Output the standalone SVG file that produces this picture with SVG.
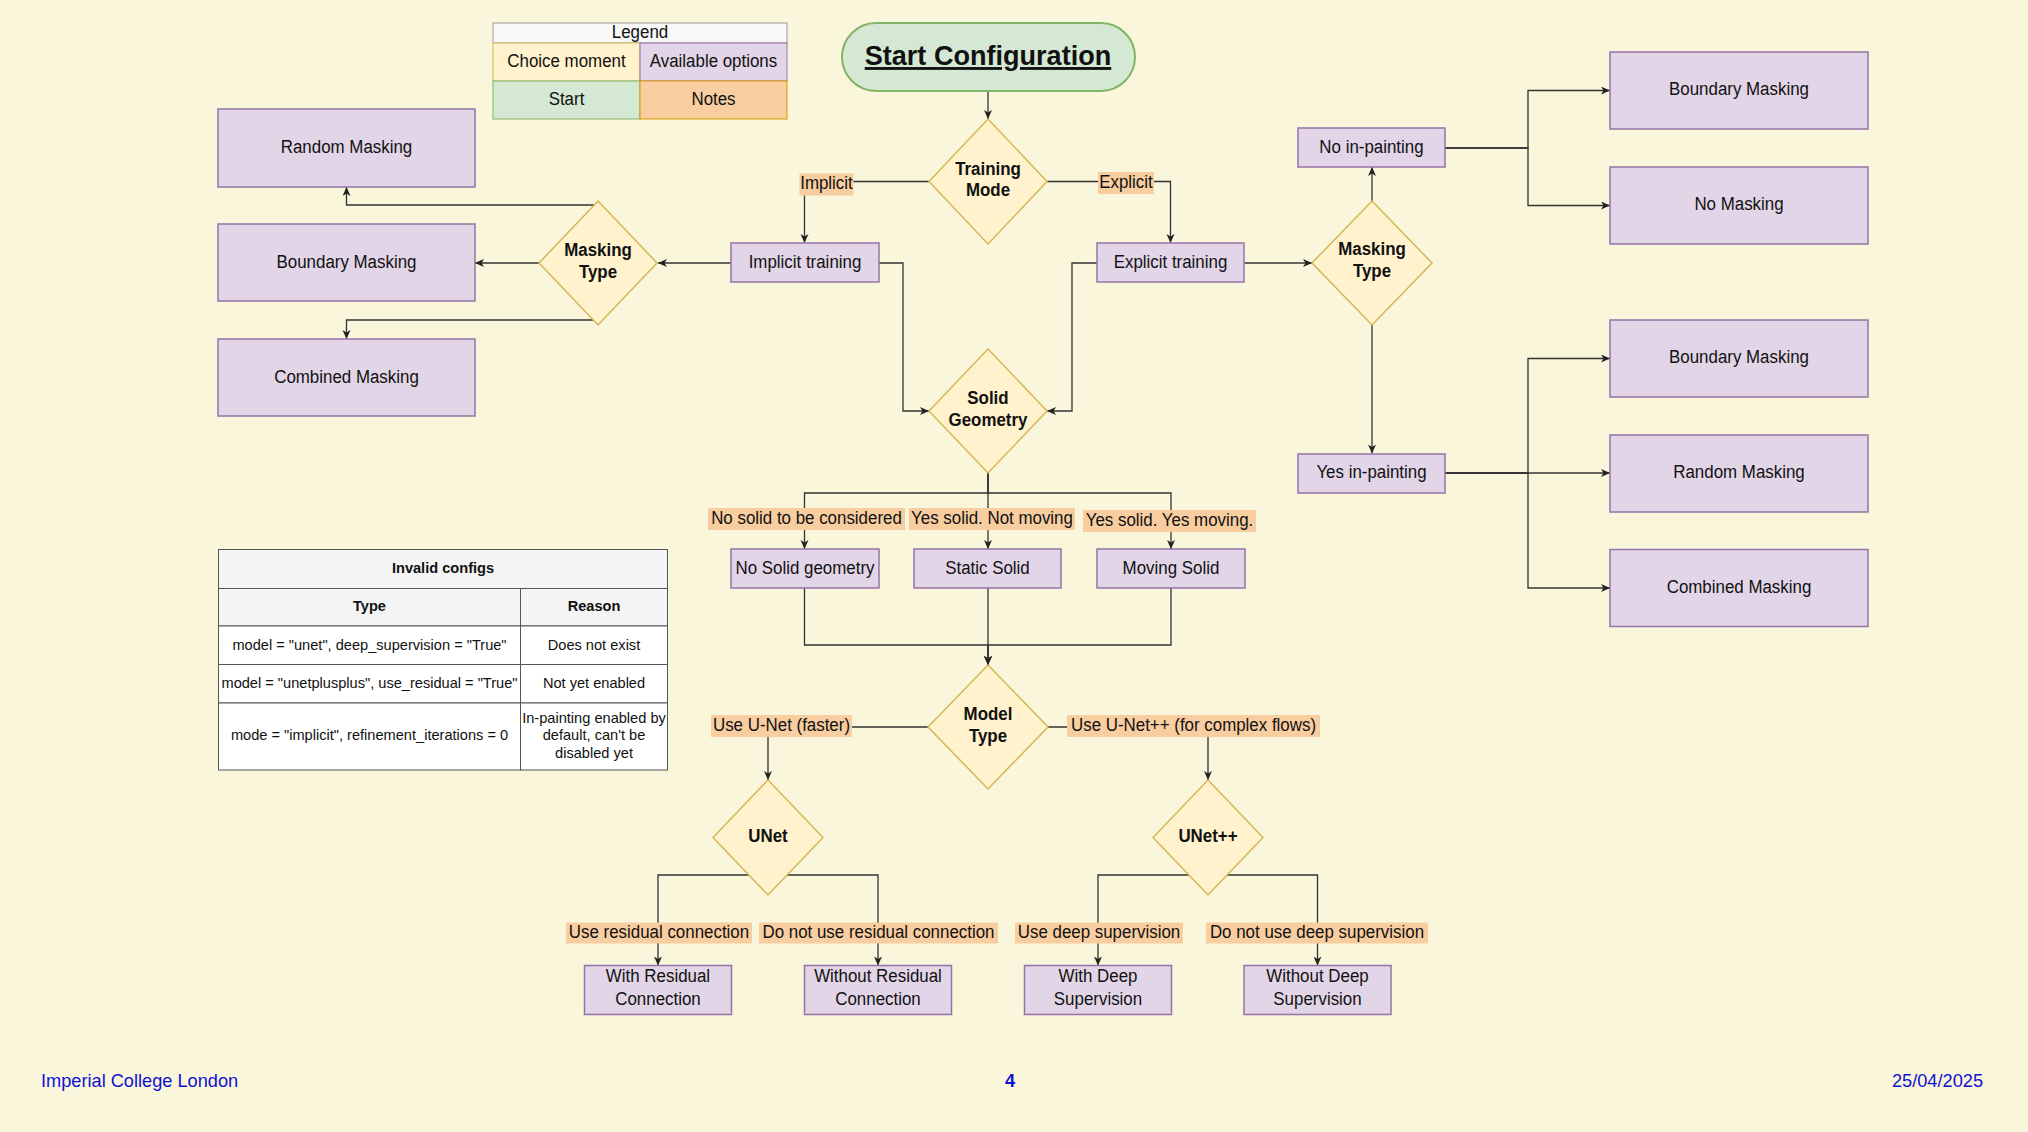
<svg xmlns="http://www.w3.org/2000/svg" width="2028" height="1132" viewBox="0 0 2028 1132">
<defs>
<marker id="ar" markerWidth="10" markerHeight="10" refX="9" refY="4" orient="auto" markerUnits="userSpaceOnUse"><path d="M0,0 L9,4 L0,8 L2.5,4 Z" fill="#222"/></marker>
</defs>
<style>
text{font-family:"Liberation Sans",Arial,sans-serif;font-size:19px;fill:#111;text-anchor:middle;transform-box:fill-box;transform-origin:center;transform:translateY(-1.2px) scaleX(.89)}
.b{font-weight:bold}
.opt{fill:#e1d5e7;stroke:#9673a6;stroke-width:1.5}
.dec{fill:#fff2cc;stroke:#d6b656;stroke-width:1.5}
.lbl{fill:#f8cda0;stroke:none}
.e{fill:none;stroke:#333;stroke-width:1.3}
.a{marker-end:url(#ar)}
.tb{font-size:14.6px;transform:translateY(-0.8px)}
.cell{stroke:#555;stroke-width:1}
.ft{fill:#1010d0;font-size:18.2px;transform:translateY(-1.2px)}
.big{font-size:28.5px;text-decoration:underline;transform:translateY(-1px) scaleX(.95)}
</style>
<rect x="0" y="0" width="2028" height="1132" fill="#f9f6dc"/>

<g id="legend">
<rect x="493" y="23" width="294" height="20" fill="#f8f8f8" stroke="#999" stroke-width="1"/>
<text x="640" y="39" fill="#333">Legend</text>
<rect x="493" y="43" width="147" height="38" fill="#fff2cc" stroke="#d6b656"/>
<text x="566.5" y="68">Choice moment</text>
<rect x="640" y="43" width="147" height="38" fill="#e1d5e7" stroke="#9673a6"/>
<text x="713.5" y="68">Available options</text>
<rect x="493" y="81" width="147" height="38" fill="#d5e8d4" stroke="#82b366"/>
<text x="566.5" y="106">Start</text>
<rect x="640" y="81" width="147" height="38" fill="#f8cda0" stroke="#d79b00"/>
<text x="713.5" y="106">Notes</text>
</g>

<g id="connectors">
<path class="e a" d="M988,91 V119"/>
<path class="e a" d="M929,181.5 H804.5 V243"/>
<path class="e a" d="M1047,181.5 H1170.5 V243"/>
<path class="e a" d="M731,263 H658"/>
<path class="e a" d="M539,263 H475"/>
<path class="e a" d="M594,205 H346.5 V187"/>
<path class="e a" d="M594,320 H346.5 V339"/>
<path class="e a" d="M879,263 H903 V411 H929"/>
<path class="e a" d="M1097,263 H1072 V411 H1047"/>
<path class="e a" d="M1244,263 H1312"/>
<path class="e a" d="M1372,201 V167"/>
<path class="e a" d="M1372,325 V453.5"/>
<path class="e a" d="M1445,148 H1528 V90.5 H1610"/>
<path class="e a" d="M1445,148 H1528 V205.5 H1610"/>
<path class="e a" d="M1445,473 H1528 V358.5 H1610"/>
<path class="e a" d="M1445,473 H1610"/>
<path class="e a" d="M1445,473 H1528 V588 H1610"/>
<path class="e a" d="M988,473 V493 H804.5 V549"/>
<path class="e a" d="M988,473 V549"/>
<path class="e a" d="M988,473 V493 H1171 V549"/>
<path class="e a" d="M804.5,588 V645 H988 V665"/>
<path class="e a" d="M988,588 V665"/>
<path class="e a" d="M1171,588 V645 H988 V665"/>
<path class="e a" d="M928,727 H768 V780"/>
<path class="e a" d="M1048,727 H1208 V780"/>
<path class="e a" d="M749,875 H658 V965.5"/>
<path class="e a" d="M787,875 H878 V965.5"/>
<path class="e a" d="M1189,875 H1098 V965.5"/>
<path class="e a" d="M1227,875 H1317.5 V965.5"/>
<rect class="lbl" x="799.5" y="173.5" width="54" height="22"/><text x="826.5" y="190.5">Implicit</text>
<rect class="lbl" x="1098" y="172" width="56" height="22"/><text x="1126" y="189">Explicit</text>
<rect class="lbl" x="708" y="508" width="197" height="22"/><text x="806.5" y="525">No solid to be considered</text>
<rect class="lbl" x="909" y="508" width="166" height="22"/><text x="992" y="525">Yes solid. Not moving</text>
<rect class="lbl" x="1083" y="510" width="173" height="22"/><text x="1169.5" y="527">Yes solid. Yes moving.</text>
<rect class="lbl" x="711" y="715" width="141" height="22"/><text x="781.5" y="732">Use U-Net (faster)</text>
<rect class="lbl" x="1067" y="715" width="253" height="22"/><text x="1193.5" y="732">Use U-Net++ (for complex flows)</text>
<rect class="lbl" x="566" y="922.5" width="186" height="21"/><text x="659" y="939">Use residual connection</text>
<rect class="lbl" x="759" y="922.5" width="239" height="21"/><text x="878.5" y="939">Do not use residual connection</text>
<rect class="lbl" x="1015" y="922.5" width="168" height="21"/><text x="1099" y="939">Use deep supervision</text>
<rect class="lbl" x="1206" y="922.5" width="222" height="21"/><text x="1317" y="939">Do not use deep supervision</text>
</g>

<g id="start">
<rect x="842" y="23" width="293" height="68" rx="34" fill="#d5e8d4" stroke="#82b366" stroke-width="2"/>
<text class="b big" x="988" y="66">Start Configuration</text>
</g>
<g id="training-mode">
<polygon class="dec" points="988,119 1047,181.5 988,244 929,181.5"/>
<text class="b" x="988" y="176">Training</text><text class="b" x="988" y="197">Mode</text>
</g>
<g id="implicit-training"><rect class="opt" x="731" y="243" width="148" height="39"/><text x="805" y="269">Implicit training</text></g>
<g id="explicit-training"><rect class="opt" x="1097" y="243" width="147" height="39"/><text x="1170.5" y="269">Explicit training</text></g>
<g id="masking-type-left">
<polygon class="dec" points="598,201 657,263 598,325 539,263"/>
<text class="b" x="598" y="257">Masking</text><text class="b" x="598" y="279">Type</text>
</g>
<g id="random-masking-left"><rect class="opt" x="218" y="109" width="257" height="78"/><text x="346.5" y="154">Random Masking</text></g>
<g id="boundary-masking-left"><rect class="opt" x="218" y="224" width="257" height="77"/><text x="346.5" y="269">Boundary Masking</text></g>
<g id="combined-masking-left"><rect class="opt" x="218" y="339" width="257" height="77"/><text x="346.5" y="384">Combined Masking</text></g>
<g id="masking-type-right">
<polygon class="dec" points="1372,201 1432,263 1372,325 1312,263"/>
<text class="b" x="1372" y="256">Masking</text><text class="b" x="1372" y="278">Type</text>
</g>
<g id="no-inpainting"><rect class="opt" x="1298" y="128" width="147" height="39"/><text x="1371.5" y="154">No in-painting</text></g>
<g id="yes-inpainting"><rect class="opt" x="1298" y="454" width="147" height="39"/><text x="1371.5" y="479">Yes in-painting</text></g>
<g id="boundary-masking-r1"><rect class="opt" x="1610" y="52" width="258" height="77"/><text x="1739" y="96">Boundary Masking</text></g>
<g id="no-masking"><rect class="opt" x="1610" y="167" width="258" height="77"/><text x="1739" y="211">No Masking</text></g>
<g id="boundary-masking-r2"><rect class="opt" x="1610" y="320" width="258" height="77"/><text x="1739" y="364.5">Boundary Masking</text></g>
<g id="random-masking-r"><rect class="opt" x="1610" y="435" width="258" height="77"/><text x="1739" y="479.5">Random Masking</text></g>
<g id="combined-masking-r"><rect class="opt" x="1610" y="549.5" width="258" height="77"/><text x="1739" y="594">Combined Masking</text></g>
<g id="solid-geometry">
<polygon class="dec" points="988,349 1047,411 988,473 929,411"/>
<text class="b" x="988" y="405">Solid</text><text class="b" x="988" y="427">Geometry</text>
</g>
<g id="no-solid"><rect class="opt" x="731" y="549" width="148" height="39"/><text x="805" y="575">No Solid geometry</text></g>
<g id="static-solid"><rect class="opt" x="914" y="549" width="147" height="39"/><text x="987.5" y="575">Static Solid</text></g>
<g id="moving-solid"><rect class="opt" x="1097" y="549" width="148" height="39"/><text x="1171" y="575">Moving Solid</text></g>
<g id="model-type">
<polygon class="dec" points="988,665 1048,727 988,789 928,727"/>
<text class="b" x="988" y="721">Model</text><text class="b" x="988" y="743">Type</text>
</g>
<g id="unet"><polygon class="dec" points="768,780 823,837.5 768,895 713,837.5"/><text class="b" x="768" y="843">UNet</text></g>
<g id="unetpp"><polygon class="dec" points="1208,780 1263,837.5 1208,895 1153,837.5"/><text class="b" x="1208" y="843">UNet++</text></g>
<g id="with-residual"><rect class="opt" x="584.5" y="965.5" width="147" height="49"/><text x="658" y="983.5">With Residual</text><text x="658" y="1006">Connection</text></g>
<g id="without-residual"><rect class="opt" x="804.5" y="965.5" width="147" height="49"/><text x="878" y="983.5">Without Residual</text><text x="878" y="1006">Connection</text></g>
<g id="with-deep"><rect class="opt" x="1024.5" y="965.5" width="147" height="49"/><text x="1098" y="983.5">With Deep</text><text x="1098" y="1006">Supervision</text></g>
<g id="without-deep"><rect class="opt" x="1244" y="965.5" width="147" height="49"/><text x="1317.5" y="983.5">Without Deep</text><text x="1317.5" y="1006">Supervision</text></g>

<g id="invalid-configs">
<rect class="cell" x="218.5" y="549.5" width="449" height="39" fill="#f4f4f4"/>
<rect class="cell" x="218.5" y="588.5" width="302" height="37.5" fill="#f4f4f4"/>
<rect class="cell" x="520.5" y="588.5" width="147" height="37.5" fill="#f4f4f4"/>
<rect class="cell" x="218.5" y="626" width="302" height="38.5" fill="#fff"/>
<rect class="cell" x="520.5" y="626" width="147" height="38.5" fill="#fff"/>
<rect class="cell" x="218.5" y="664.5" width="302" height="38.5" fill="#fff"/>
<rect class="cell" x="520.5" y="664.5" width="147" height="38.5" fill="#fff"/>
<rect class="cell" x="218.5" y="703" width="302" height="67" fill="#fff"/>
<rect class="cell" x="520.5" y="703" width="147" height="67" fill="#fff"/>
<text class="b tb" x="443" y="574">Invalid configs</text>
<text class="b tb" x="369.5" y="612">Type</text>
<text class="b tb" x="594" y="612">Reason</text>
<text class="tb" x="369.5" y="650.5">model = "unet", deep_supervision = "True"</text>
<text class="tb" x="594" y="650.5">Does not exist</text>
<text class="tb" x="369.5" y="689">model = "unetplusplus", use_residual = "True"</text>
<text class="tb" x="594" y="689">Not yet enabled</text>
<text class="tb" x="369.5" y="741">mode = "implicit", refinement_iterations = 0</text>
<text class="tb" x="594" y="724">In-painting enabled by</text>
<text class="tb" x="594" y="741">default, can't be</text>
<text class="tb" x="594" y="758.5">disabled yet</text>
</g>

<g id="footer">
<text class="ft" x="41" y="1088" style="text-anchor:start">Imperial College London</text>
<text class="ft b" x="1010" y="1088">4</text>
<text class="ft" x="1983" y="1088" style="text-anchor:end">25/04/2025</text>
</g>
</svg>
